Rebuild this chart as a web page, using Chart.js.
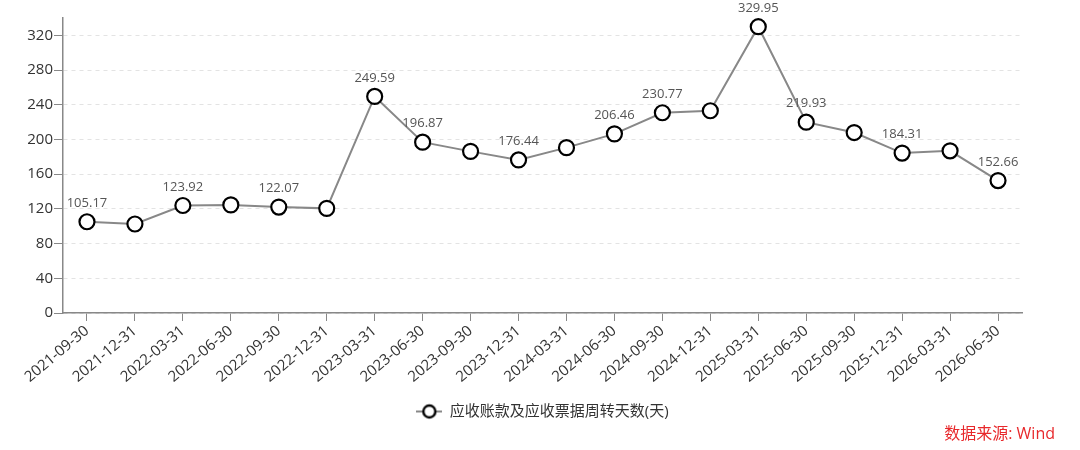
<!DOCTYPE html>
<html>
<head>
<meta charset="utf-8">
<script src="https://cdn.jsdelivr.net/npm/chart.js@4/dist/chart.umd.min.js"></script>
<style>
  html, body { margin: 0; padding: 0; background: #fff; }
  #wrap { position: relative; width: 1080px; height: 450px; }
  #source {
    position: absolute; right: 25px; top: 420px;
    color: #e8282b; font: 16px "Open Sans", "Noto Sans CJK SC", sans-serif;
  }
</style>
</head>
<body>
<div id="wrap">
  <canvas id="chart" width="1080" height="450"></canvas>
  <div id="source">数据来源: Wind</div>
</div>
<script>
// ============================================================
// DATA
// ============================================================

const periods = [
  '2021-09-30', '2021-12-31', '2022-03-31', '2022-06-30', '2022-09-30',
  '2022-12-31', '2023-03-31', '2023-06-30', '2023-09-30', '2023-12-31',
  '2024-03-31', '2024-06-30', '2024-09-30', '2024-12-31', '2025-03-31',
  '2025-06-30', '2025-09-30', '2025-12-31', '2026-03-31', '2026-06-30'
];

const turnoverDays = [
  105.17, 102.6, 123.92, 124.6, 122.07,
  120.6, 249.59, 196.87, 186.3, 176.44,
  190.6, 206.46, 230.77, 233.1, 329.95,
  219.93, 208.0, 184.31, 186.9, 152.66
];

// points that carry a value label in the original
const labelledIdx = [0, 2, 4, 6, 7, 9, 11, 12, 14, 15, 17, 19];

const yTicks = [0, 40, 80, 120, 160, 200, 240, 280, 320];
const seriesName = '应收账款及应收票据周转天数(天)';

const FONT = '"Open Sans", "Noto Sans CJK SC", sans-serif';

// ============================================================
// PLUGINS
// ============================================================

const valueLabels = {
  id: 'valueLabels',
  afterDatasetsDraw(chart) {
    const ctx = chart.ctx;
    const meta = chart.getDatasetMeta(0);
    ctx.save();
    ctx.font = '13px ' + FONT;
    ctx.fillStyle = '#555';
    ctx.textAlign = 'center';
    ctx.textBaseline = 'bottom';
    labelledIdx.forEach(i => {
      const pt = meta.data[i];
      ctx.fillText(turnoverDays[i].toFixed(2), pt.x, pt.y - 12);
    });
    ctx.restore();
  }
};

// centre the legend under the plot area rather than the whole canvas
const legendShift = {
  id: 'legendShift',
  afterLayout(chart) {
    const lg = chart.legend;
    if (!lg) return;
    const area = chart.chartArea;
    const dx = (area.left + area.right) / 2 - (lg.left + lg.right) / 2;
    lg.left += dx;
    lg.right += dx;
  }
};

// legend marker: line through a hollow circle
function legendMarker() {
  const c = document.createElement('canvas');
  c.width = 26; c.height = 18;
  const g = c.getContext('2d');
  g.strokeStyle = '#888';
  g.lineWidth = 2;
  g.beginPath(); g.moveTo(0, 9); g.lineTo(26, 9); g.stroke();
  g.fillStyle = '#fff';
  g.strokeStyle = '#000';
  g.lineWidth = 2.4;
  g.beginPath(); g.arc(13, 9, 6, 0, Math.PI * 2); g.fill(); g.stroke();
  return c;
}

// ============================================================
// CHART
// ============================================================

const marker = legendMarker();

new Chart(document.getElementById('chart').getContext('2d'), {
  type: 'line',
  data: {
    labels: periods,
    datasets: [{
      label: seriesName,
      data: turnoverDays,
      borderColor: '#888',
      borderWidth: 2,
      pointRadius: 7.5,
      pointHoverRadius: 7.5,
      pointBorderWidth: 2.2,
      pointBorderColor: '#000',
      pointBackgroundColor: '#fff',
      pointStyle: 'circle',
      tension: 0
    }]
  },
  options: {
    responsive: false,
    animation: false,
    layout: { padding: { top: 18, right: 58, bottom: 21, left: 0 } },
    plugins: {
      tooltip: { enabled: false },
      legend: {
        position: 'bottom',
        labels: {
          color: '#333',
          font: { size: 15, family: FONT },
          padding: 6,
          usePointStyle: true,
          pointStyleWidth: 26,
          generateLabels: chart => [{
            text: seriesName,
            pointStyle: marker,
            fillStyle: '#fff',
            strokeStyle: '#000',
            fontColor: '#333',
            datasetIndex: 0
          }]
        }
      }
    },
    scales: {
      x: {
        offset: true,
        grid: {
          display: true,
          offset: false,
          drawOnChartArea: false,
          drawTicks: true,
          tickLength: 8,
          tickColor: '#888'
        },
        border: { color: '#888', width: 1.5 },
        ticks: {
          color: '#333',
          font: { size: 15, family: FONT },
          minRotation: 40,
          maxRotation: 40,
          autoSkip: false,
          padding: 1
        },
        afterFit(scale) { scale.height = 85; }
      },
      y: {
        min: 0,
        max: 340,
        afterBuildTicks(scale) {
          scale.ticks = yTicks.map(v => ({ value: v }));
        },
        grid: {
          color: '#e3e3e3',
          tickColor: '#888',
          tickLength: 9,
          tickBorderDash: []
        },
        border: { color: '#888', width: 1.5, dash: [4, 4] },
        ticks: {
          color: '#333',
          font: { size: 15, family: FONT },
          padding: 1
        },
        afterFit(scale) { scale.width = 63; }
      }
    }
  },
  plugins: [valueLabels, legendShift]
});
</script>
</body>
</html>
